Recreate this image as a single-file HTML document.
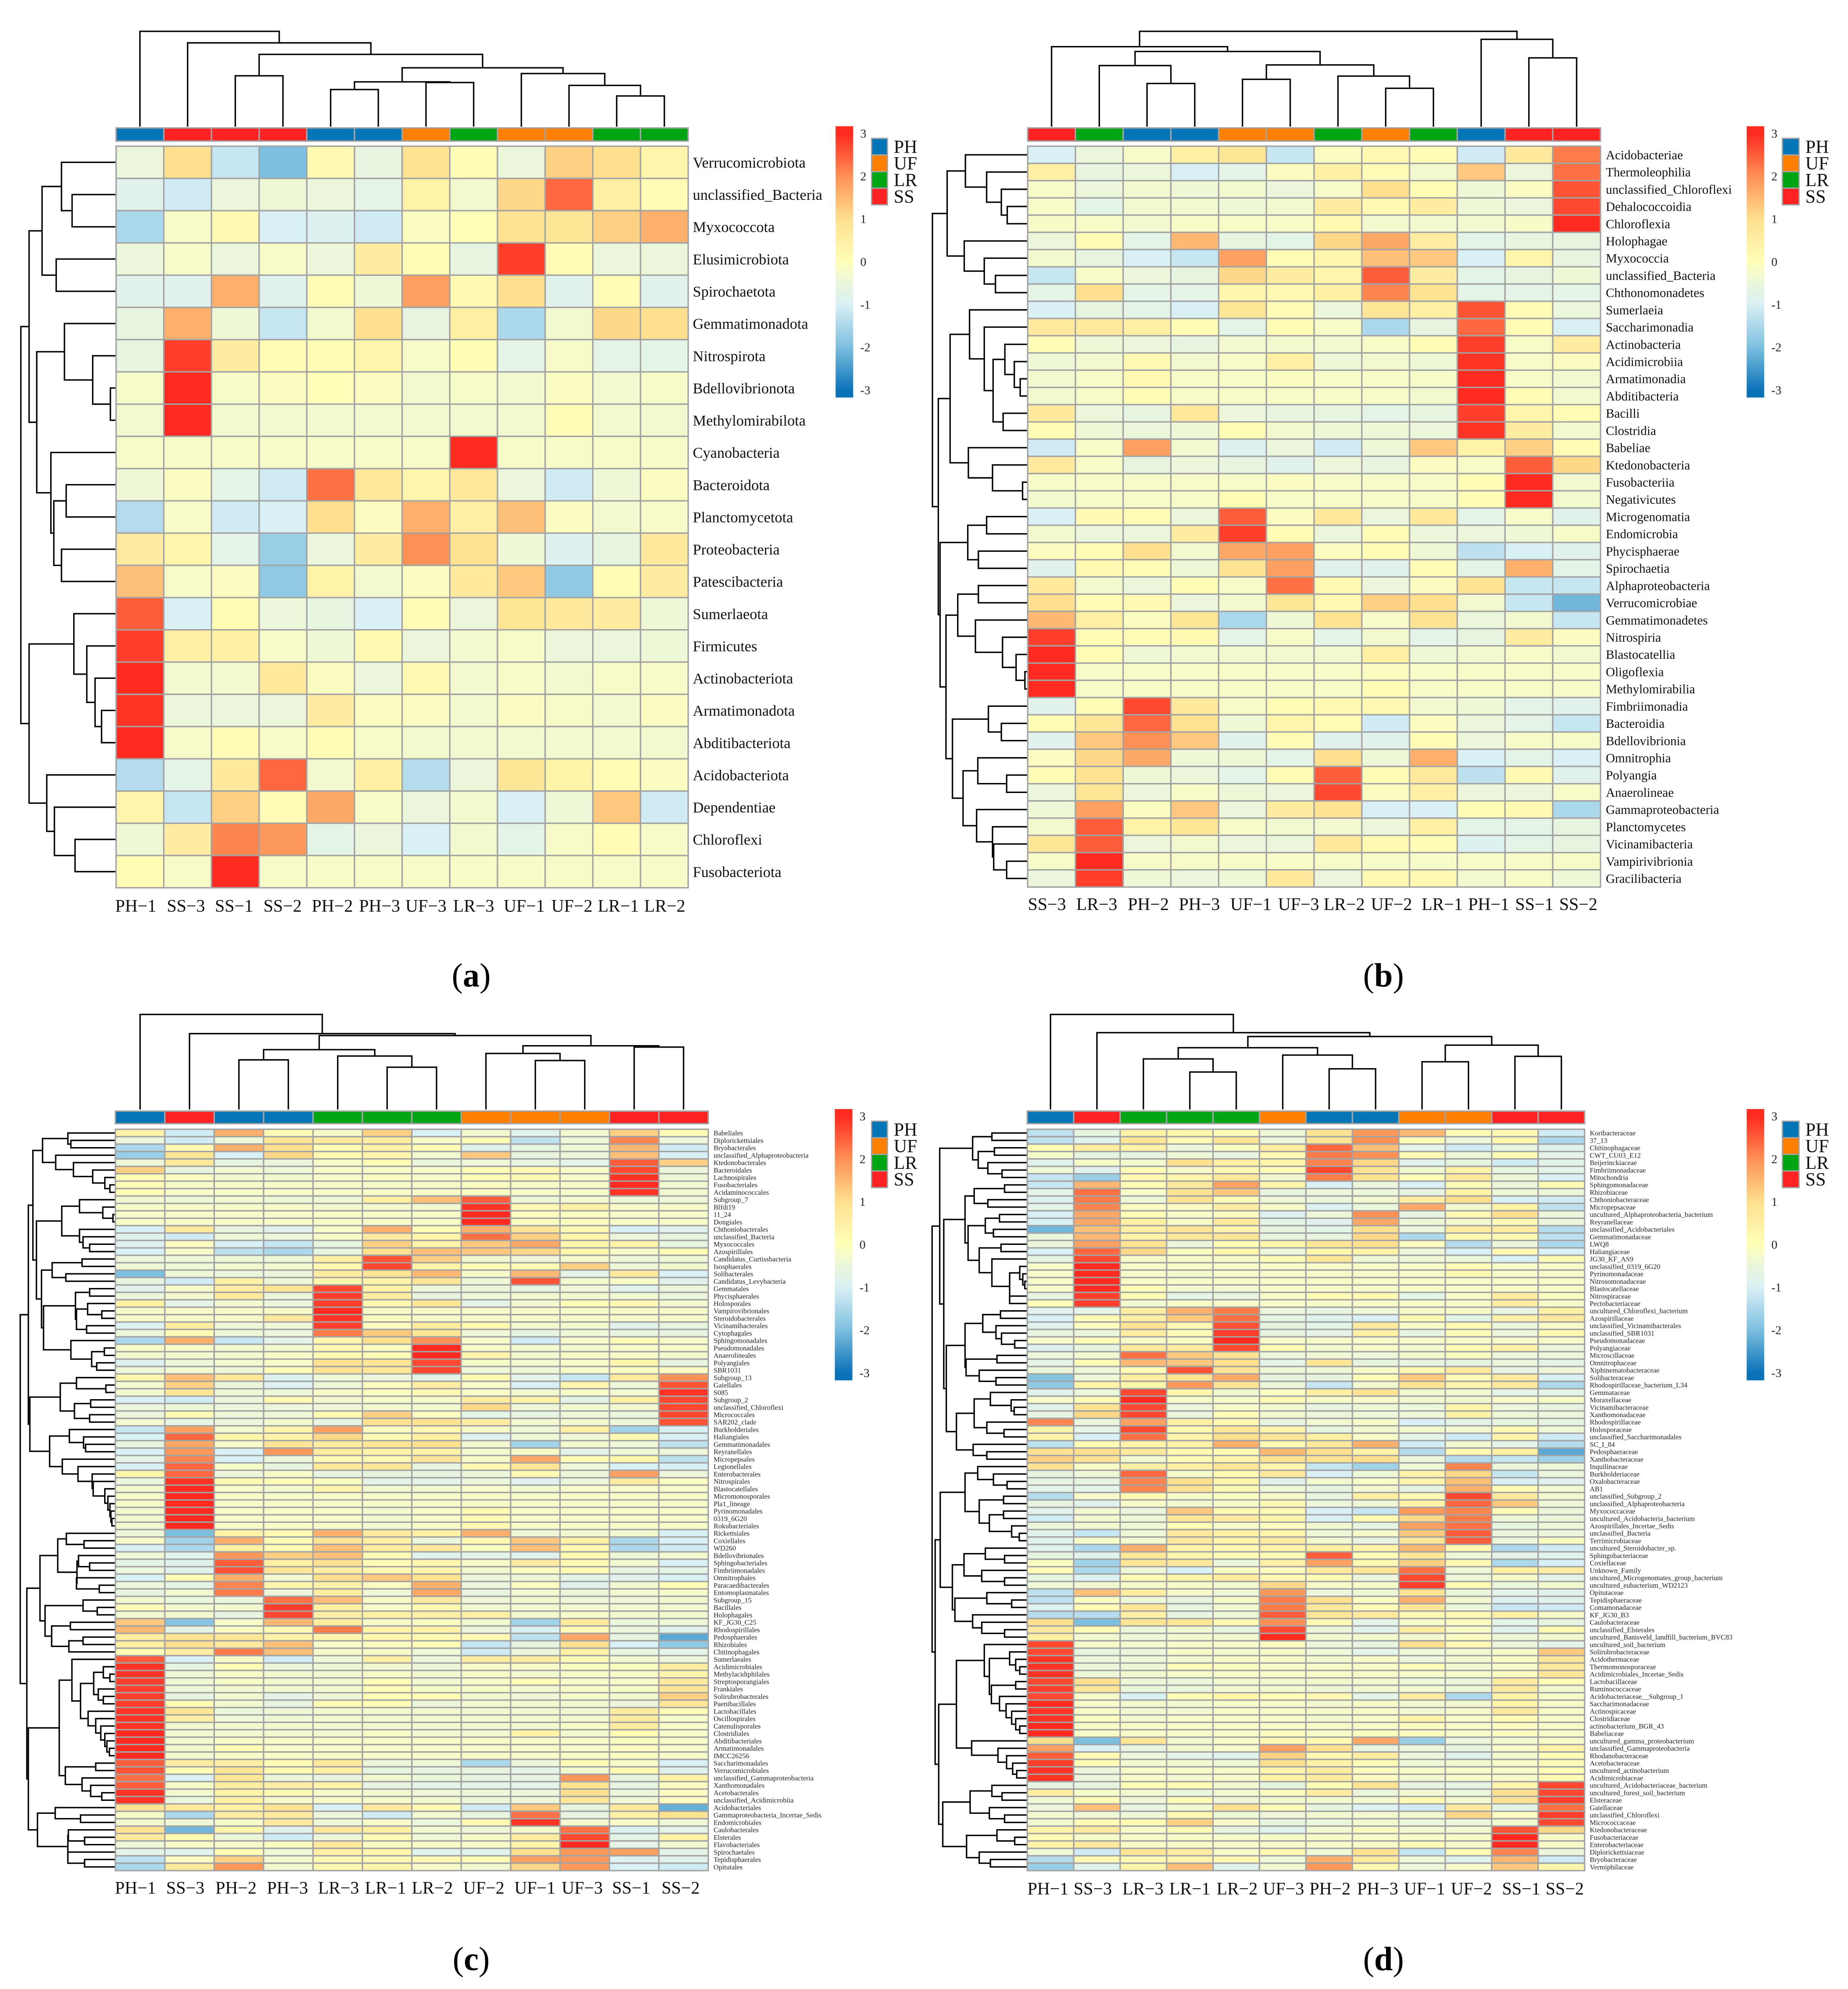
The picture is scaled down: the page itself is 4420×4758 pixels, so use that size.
<!DOCTYPE html>
<html lang="en">
<head>
<meta charset="utf-8">
<title>Clustered heatmaps of taxa across samples</title>
<style>
html,body{margin:0;padding:0;background:#fff;}
svg{display:block;font-family:"Liberation Serif",serif;}
</style>
</head>
<body>
<svg id="figure" xmlns="http://www.w3.org/2000/svg" width="4420" height="4758" viewBox="0 0 4420 4758">
<rect x="0" y="0" width="4420" height="4758" fill="#ffffff"></rect>
</svg>
<script>
const legendGroups=["PH","UF","LR","SS"];
const colorbarTicks=[3,2,1,0,-1,-2,-3];

const columnsA=["PH−1","SS−3","SS−1","SS−2","PH−2","PH−3","UF−3","LR−3","UF−1","UF−2","LR−1","LR−2"];
const rowsA=["Verrucomicrobiota","unclassified_Bacteria","Myxococcota","Elusimicrobiota","Spirochaetota","Gemmatimonadota","Nitrospirota","Bdellovibrionota","Methylomirabilota","Cyanobacteria","Bacteroidota","Planctomycetota","Proteobacteria","Patescibacteria","Sumerlaeota","Firmicutes","Actinobacteriota","Armatimonadota","Abditibacteriota","Acidobacteriota","Dependentiae","Chloroflexi","Fusobacteriota"];
const valuesA=[
[-.5,1,-1.2,-2,.2,-.6,.9,.1,-.5,1.2,1,.3],
[-.8,-1.1,-.5,-.4,-.5,-.7,.4,-.3,1.1,2.4,.5,.1],
[-1.5,-.2,.2,-1,-.9,-1.1,-.1,0,.9,.8,1.2,1.6],
[-.5,-.2,-.5,-.2,-.5,.6,.1,-.6,2.8,.1,-.5,-.5],
[-.8,-.8,1.6,-.8,.1,-.4,1.8,.2,1,-.8,.1,-.8],
[-.6,1.6,-.4,-1.2,-.3,1,-.6,.5,-1.5,-.3,1.1,1],
[-.6,2.8,.6,.1,.1,.3,-.2,.1,-.7,-.2,-.7,-.7],
[-.2,3,-.2,-.1,0,-.1,-.3,-.2,-.3,-.1,-.3,-.2],
[-.3,3,-.3,-.3,-.3,-.3,-.3,-.3,-.3,.1,-.3,-.3],
[-.2,-.2,-.2,-.2,-.2,-.2,-.2,3,-.2,-.2,-.2,-.2],
[-.4,-.1,-.7,-1.1,2.3,.7,.3,.7,-.5,-1.1,-.4,-.1],
[-1.4,-.2,-1.1,-1,1,-.1,1.6,.5,1.4,-.1,-.3,-.2],
[.6,.3,-.7,-1.7,-.5,.6,2,.9,-.4,-.9,-.6,.7],
[1.4,-.2,-.1,-1.8,.4,-.3,-.1,.7,1.3,-1.8,.1,.6],
[2.5,-1,.1,-.5,-.6,-1,.1,-.5,.8,.7,.6,-.4],
[2.8,.5,.5,-.2,-.4,.2,-.5,-.3,-.2,-.5,-.5,-.4],
[3,-.3,-.3,.7,-.1,-.5,.2,-.3,-.2,-.3,-.2,-.2],
[2.9,-.5,-.5,-.5,.6,-.1,-.1,-.3,-.1,-.2,-.3,-.1],
[3,-.2,.1,-.2,.1,-.2,-.3,-.3,-.3,-.3,-.3,-.3],
[-1.4,-.7,.7,2.4,-.3,.5,-1.4,-.5,.8,.4,.1,-.1],
[.3,-1.2,1.2,.1,1.7,-.2,-.5,-.3,-1,-.4,1.3,-1.1],
[-.4,.6,2.1,1.9,-.7,-.5,-1,-.3,-.7,-.2,.1,-.2],
[.1,-.2,3,-.2,-.2,-.2,-.2,-.2,-.2,-.2,-.2,-.2]];
const topTreeA=[298,0,[262,0,[226,[159,0,0],[184,[140,[116,0,0],[138,0,0]],[166,0,[129,0,[96,0,0]]]]]]];
const rowTreeA=[161,[147,[125,[92,0,[74,0,0]],[101,0,0]],[134,[87,0,[39,0,[9,0,0]]],[110,0,[105,[84,0,0],[92,0,0]]]]],[147,[71,0,[49,0,[35,0,[24,0,0]]]],[117,0,[104,0,[69,0,0]]]]];

const columnsB=["SS−3","LR−3","PH−2","PH−3","UF−1","UF−3","LR−2","UF−2","LR−1","PH−1","SS−1","SS−2"];
const rowsB=["Acidobacteriae","Thermoleophilia","unclassified_Chloroflexi","Dehalococcoidia","Chloroflexia","Holophagae","Myxococcia","unclassified_Bacteria","Chthonomonadetes","Sumerlaeia","Saccharimonadia","Actinobacteria","Acidimicrobiia","Armatimonadia","Abditibacteria","Bacilli","Clostridia","Babeliae","Ktedonobacteria","Fusobacteriia","Negativicutes","Microgenomatia","Endomicrobia","Phycisphaerae","Spirochaetia","Alphaproteobacteria","Verrucomicrobiae","Gemmatimonadetes","Nitrospiria","Blastocatellia","Oligoflexia","Methylomirabilia","Fimbriimonadia","Bacteroidia","Bdellovibrionia","Omnitrophia","Polyangia","Anaerolineae","Gammaproteobacteria","Planctomycetes","Vicinamibacteria","Vampirivibrionia","Gracilibacteria"];
const valuesB=[
[-1,-.5,-.2,.5,.8,-1.2,-.1,.2,.1,-1.1,.7,2.2],
[.5,-.6,-.5,-1,-.7,-.1,.5,.1,-.3,1.3,-.5,2.3],
[-.2,-.5,-.3,-.4,-.3,-.5,-.2,1,.1,-.4,-.1,2.6],
[-.2,-.7,-.3,-.3,-.4,-.3,.6,.2,.6,-.4,-.5,2.7],
[-.2,-.2,-.3,-.2,-.2,-.2,.2,-.3,-.3,-.3,-.2,3],
[-.5,.1,-.7,1.5,-.6,-.7,1.1,1.7,.6,-.7,-.6,-.6],
[-.3,-.6,-1,-1.2,1.8,.1,.3,1.4,1.3,-1,.3,-.6],
[-1.2,-.2,-.5,-.6,1.1,.6,.3,2.5,.6,-.7,-.6,-.4],
[-.7,1,-.7,-.7,.3,.2,.5,2.1,.9,-.7,-.7,-.7],
[-1,-.6,-.7,-1,.8,.1,-.5,.8,.5,2.6,.1,-.5],
[.7,.7,.5,.1,-.7,.1,-.2,-1.5,-.6,2.4,.1,-1],
[.1,-.4,-.5,-.6,-.3,-.3,-.3,-.2,.1,2.8,-.2,.6],
[-.4,-.3,.2,-.3,-.2,.5,-.4,-.3,-.4,2.9,-.2,-.1],
[-.3,-.2,.2,-.2,-.2,-.1,-.2,-.2,-.2,3,-.2,-.3],
[-.3,-.2,.1,-.2,-.2,-.2,-.2,-.2,-.3,3,.1,-.3],
[.7,-.5,-.6,.7,-.5,-.6,-.6,-.7,-.6,2.8,.3,.1],
[.1,-.4,-.5,-.4,.1,-.3,-.4,-.4,-.5,2.9,.6,-.3],
[-1.1,-.2,1.8,-.3,-.9,-.5,-1.1,-.4,1.3,.4,1.2,.1],
[.7,-.2,-.6,-.5,-.6,-.8,-.5,-.6,-.1,-.2,2.5,1.1],
[-.2,-.2,-.2,-.2,-.2,-.1,-.2,-.2,-.2,.1,3,-.3],
[-.3,-.2,-.2,-.2,.1,-.2,-.2,-.2,-.2,.1,3,-.3],
[-1,.2,.1,-.5,2.5,-.1,.7,-.5,.7,-.7,-.2,-.8],
[-.3,-.5,-.5,.6,2.8,.1,-.5,.1,-.5,-.5,-.4,-.2],
[-.1,.1,1,-.3,1.7,1.8,-.1,.1,-.4,-1.3,-1,-.8],
[-.8,.2,.1,-.4,.9,1.8,-.8,-.8,.1,-.7,1.6,-.7],
[.7,-.3,-.5,.1,-.2,2.3,.2,-.5,-.1,.9,-1.2,-1.2],
[1,.1,.2,-.5,-.3,.8,.2,1.2,1,-.3,-1.2,-2.1],
[1.5,.5,-.1,.8,-1.5,-.4,.9,-.2,.9,-.5,-.3,-1.2],
[2.8,.1,.1,.2,-.7,-.2,-.7,-.3,-.7,-.6,.6,-.1],
[3,.1,-.4,-.3,-.3,-.3,-.3,.5,-.4,-.3,-.2,-.3],
[3,-.2,-.2,-.2,-.2,-.2,-.2,-.1,-.2,-.2,-.2,-.2],
[3,-.2,-.2,-.2,-.2,-.2,-.2,.1,-.2,-.2,-.2,-.2],
[-.8,.1,2.7,.7,-.2,.1,.2,.2,-.3,-.4,-.7,-.8],
[.1,.8,2.4,.9,-.4,.3,.1,-1.1,-.1,-.5,-.7,-1.2],
[-.8,1.3,2,1.3,-.8,.1,-.8,-.8,.1,-.5,-.2,-.2],
[-.1,1.1,1.7,-.4,-.4,-.7,1,-.4,1.6,-1,-.7,-1],
[.1,.9,-.4,-.5,-.7,.1,2.5,.1,.7,-1.3,.2,-.8],
[-.5,.8,-.5,-.2,-.4,-.5,2.7,-.1,.5,-.5,-.5,-.2],
[-.4,1.8,-.1,1.3,-.5,.6,.9,-1,-1,.1,.2,-1.5],
[-.3,2.5,.4,.8,-.2,-.3,-.3,-.5,.5,-.7,-.7,-.6],
[.8,2.5,-.5,-.3,-.5,-.5,.7,.2,.1,-.9,-.7,-.6],
[-.2,3,-.2,-.2,-.2,-.2,-.2,-.2,-.2,-.2,-.2,-.2],
[-.5,2.8,-.4,-.5,-.4,.7,-.5,.2,.2,-.3,-.2,-.4]];
const topTreeB=[298,[250,0,[235,[191,0,[135,0,0]],[193,[148,0,0],[158,0,[120,0,0]]]]],[273,0,[215,0,0]]];
const rowTreeB=[161,[136,[105,0,[69,0,[44,0,[34,0,0]]]],[107,0,[73,0,[54,0,0]]]],[151,[131,[98,0,[73,0,[58,[38,0,[22,0,[12,0,0]]],[41,0,0]]]],[100,0,[59,0,[8,0,0]]]],[148,[101,[69,0,0],[83,0,0]],[138,[118,[83,0,0],[88,0,[42,0,[19,0,[4,0,0]]]]],[127,[66,0,[44,0,0]],[109,[84,0,[35,0,0]],[86,0,[59,0,[57,0,[35,0,0]]]]]]]]]];

const columnsC=["PH−1","SS−3","PH−2","PH−3","LR−3","LR−1","LR−2","UF−2","UF−1","UF−3","SS−1","SS−2"];
const rowsC=["Babeliales","Diplorickettsiales","Bryobacterales","unclassified_Alphaproteobacteria","Ktedonobacterales","Bacteroidales","Lachnospirales","Fusobacteriales","Acidaminococcales","Subgroup_7","Blfdi19","11_24","Dongiales","Chthoniobacterales","unclassified_Bacteria","Myxococcales","Azospirillales","Candidatus_Curtissbacteria","Isosphaerales","Solibacterales","Candidatus_Levybacteria","Gemmatales","Phycisphaerales","Holosporales","Vampirovibrionales","Steroidobacterales","Vicinamibacterales","Cytophagales","Sphingomonadales","Pseudomonadales","Anaerolineales","Polyangiales","SBR1031","Subgroup_13","Gaiellales","S085","Subgroup_2","unclassified_Chloroflexi","Micrococcales","SAR202_clade","Burkholderiales","Haliangiales","Gemmatimonadales","Reyranellales","Micropepsales","Legionellales","Enterobacterales","Nitrospirales","Blastocatellales","Micromonosporales","Pla1_lineage","Pyrinomonadales","0319_6G20","Rokubacteriales","Rickettsiales","Coxiellales","WD260","Bdellovibrionales","Sphingobacteriales","Fimbriimonadales","Omnitrophales","Paracaedibacterales","Entomoplasmatales","Subgroup_15","Bacillales","Holophagales","KF_JG30_C25","Rhodospirillales","Pedosphaerales","Rhizobiales","Chitinophagales","Sumerlaeales","Acidimicrobiales","Methylacidiphilales","Streptosporangiales","Frankiales","Solirubrobacterales","Paenibacillales","Lactobacillales","Oscillospirales","Catenulisporales","Clostridiales","Abditibacteriales","Armatimonadales","IMCC26256","Saccharimonadales","Verrucomicrobiales","unclassified_Gammaproteobacteria","Xanthomonadales","Acetobacterales","unclassified_Acidimicrobiia","Acidobacteriales","Gammaproteobacteria_Incertae_Sedis","Endomicrobiales","Caulobacterales","Elsterales","Flavobacteriales","Spirochaetales","Tepidisphaerales","Opitutales"];
const valuesC=[
[.4,-1.1,1.6,.1,-.2,1.2,-1,-.3,-.8,-.3,1.2,.1],
[-.5,-1.1,-.4,.8,.7,.6,-.2,.1,-1.3,-.4,2.1,-.5],
[-1.5,.2,1.6,1,.1,.4,.1,-.8,-.6,-.4,1.5,-1.1],
[-1.7,.8,-1,1.1,.2,.3,-.3,1.3,-.6,-.5,1.4,-1],
[-.4,.7,-.6,-.5,-.2,.1,-.5,-.4,-.6,-.7,2.5,1.2],
[1.2,-.6,-.3,-.4,-.2,-.2,-.2,.1,.2,-.2,2.7,-.5],
[.1,-.1,-.3,-.3,-.2,-.1,-.2,.1,.2,-.2,2.9,-.4],
[.1,-.2,-.2,-.2,-.2,-.2,-.2,-.1,-.2,-.2,3,-.3],
[.1,-.2,-.2,-.2,-.2,-.2,-.2,-.1,-.2,-.2,2.9,-.3],
[-.3,-.4,-.3,-.4,-.4,.5,1.4,2.5,-.4,-.3,-.4,-.4],
[-.2,-.2,-.2,-.2,-.3,-.3,-.3,2.9,.2,.5,-.2,-.2],
[-.2,-.2,-.2,-.2,-.2,-.2,-.2,3,-.1,-.1,-.2,-.2],
[-.2,-.2,-.2,-.2,-.2,-.2,-.2,3,-.1,-.1,-.2,-.2],
[-1,.7,-.6,-.8,-.2,1.6,.1,1.6,.8,.2,-1,-.8],
[-.8,-1.1,-.4,-.5,-.2,.6,.3,2.3,1.2,.3,-.5,-.6],
[-.9,-.1,-1,-1.2,-.6,1.2,.4,1.3,1.7,.3,.4,-.6],
[-1,-.2,-1.3,-1.5,-.6,1,1.4,1.3,1.1,.3,-.2,.1],
[-.5,-.4,-.4,-.4,.5,2.6,1.2,-.3,-.4,-.2,-.4,-.4],
[-.4,-.4,-.3,-.3,.2,2.7,.4,.1,.1,1.2,-.4,-.3],
[-2,-.4,-.5,-.5,.6,.8,1.5,-.2,1.5,-.7,.7,-1],
[-.6,-1.1,.5,-.4,.3,.4,.8,-.4,2.6,-.3,-.2,-.8],
[-.8,-.2,.6,.9,2.7,.4,-.4,-.5,-.6,-.4,-.8,-.5],
[-.5,-.3,.7,-.5,2.8,.6,-.6,-.4,-.3,-.3,-.3,-.5],
[.5,-.7,-.3,-.5,2.8,.2,.8,-.7,-.3,.1,.2,-.3],
[-.2,-.2,-.2,-.2,3,-.2,-.2,-.2,-.2,-.2,-.2,-.2],
[-.2,-.2,-.2,.7,2.9,-.1,-.2,-.2,-.2,-.2,-.2,-.2],
[-.9,.6,-.4,-.4,2.8,-.1,.6,.2,-.3,-.3,-.8,-.6],
[-.5,.1,-.4,-.5,2.2,1.3,.8,-.4,-.6,-.4,-.6,-.6],
[-1.5,1.6,-1.2,-.7,.3,1,2,-.2,-1.1,-.2,.1,-.2],
[-.2,-.2,-.3,-.3,.2,-.1,3,-.2,-.3,-.3,-.2,-.2],
[-.3,-.3,-.3,-.2,.2,.1,3,.3,-.3,-.2,-.2,-.3],
[-.9,-.5,-.3,-.2,.9,.8,2.7,-.2,-.3,-.2,.3,-.6],
[-.4,-.3,-.4,.1,.9,.8,2.7,-.4,-.4,-.2,-.1,-.1],
[.3,1.4,.8,-.9,-.4,-.5,-.7,.2,-.7,-1.2,.7,2],
[-.3,1.2,-.5,-.9,-.4,-.1,.6,-.2,-1,.3,-.4,2.6],
[-.3,.8,-.4,-.4,-.2,-.1,.2,-.2,-.3,-.2,-.3,2.9],
[-1,-1.1,-.5,.2,-.3,-.2,-.2,.6,.4,-.7,.5,2.7],
[-.5,-.4,-.5,-.5,-.4,-.3,-.3,1.1,-.4,-.3,-.3,2.7],
[-.5,.1,-.4,-.4,.2,1.2,-.1,-.7,-.6,-.4,-.5,2.7],
[-.3,-.6,-.5,-.3,-.6,.9,.9,.6,-.3,-.3,-.4,2.6],
[-1.2,1.8,-.3,.3,1.8,-.1,.2,-.2,-.4,.5,-1.6,-1],
[-1,2.4,.3,.4,1.1,.1,.5,-.9,-.4,-.4,.2,-1],
[-.6,1.7,-.2,.8,.6,.8,1,-.3,-1.6,-.3,-.4,-1.3],
[-1,1.9,-1,1.9,.6,.4,.4,-.3,-.2,-.7,-.4,-.5],
[-.7,2.1,-1,-.5,.1,.2,.8,-.2,1.7,.1,.3,-1.3],
[-1,2.4,-.2,-.6,.7,.8,-.6,.2,.8,-.4,-1,-1],
[.3,2.4,-.5,-.2,-.6,-.6,-.6,-.5,.2,-.5,1.8,-.5],
[-.5,2.9,.2,.1,-.1,-.7,-.7,-.5,-.8,-.5,.6,-.1],
[-.3,3,-.2,-.3,.3,-.3,-.3,-.2,-.3,-.2,-.2,-.2],
[-.2,3,-.2,-.2,-.2,-.2,-.2,-.2,-.2,-.2,-.2,-.2],
[-.2,3,-.2,-.2,-.2,-.2,-.2,-.2,-.2,-.2,-.2,-.2],
[-.3,3,-.2,-.2,-.2,-.3,-.2,.2,-.2,-.2,-.2,-.2],
[-.3,3,-.2,-.2,-.2,-.3,-.2,.1,-.2,-.2,-.2,-.2],
[-.3,3,-.2,-.2,-.2,-.3,-.2,.2,-.2,-.2,-.2,-.2],
[-.5,-2,.4,.2,1.6,.7,.5,1.6,-.4,-.3,-.3,-1],
[-.2,-1.6,1.6,.1,.8,.5,-.5,.2,1.3,.5,-1.5,-1],
[-1,-1.5,.5,.1,1.4,.6,.7,-.1,1.4,.2,-1.5,-1.1],
[-.4,-.8,1.9,1.2,1.4,.1,-.8,-.7,-.8,.2,-.4,-.3],
[-.7,-.8,2.5,.5,1,.1,.3,-.2,.6,.2,-.3,-1],
[-.5,-.8,2.6,.8,.5,.2,.3,-.3,-.1,.1,-.6,-.7],
[-1,.1,1.6,-.3,1,1.3,.9,-.5,-.4,-.7,-.8,-1],
[-.5,-.7,2.1,.3,.4,-.1,1.6,-.5,-.1,-.8,-.3,.1],
[-.6,-.3,2.2,-.5,.6,-.4,1.7,-.6,-.3,-.5,-.3,-.2],
[-.3,-.5,-.5,2.3,1.4,-.2,.7,-.4,-.3,-.4,-.4,-.3],
[.1,-.3,-.3,2.8,.5,-.2,.2,-.3,-.3,-.3,-.3,-.3],
[-.3,-.3,-.6,2.7,.5,.5,.5,.5,-.3,-.2,-.3,-.3],
[1.3,-1.9,-.2,1.5,.6,-.2,-.1,-.3,-1.6,.7,-.5,-.4],
[1.5,-.7,-.1,.1,2.2,.4,.4,-.5,-1,.1,-.5,-.8],
[.6,.9,.8,.4,.3,.3,.2,.2,-1.3,1.7,-.6,-2.3],
[.5,1,.7,1.4,-.2,-.1,.1,-1.2,-.6,1,-1,-1.8],
[.1,.6,2.2,1.4,-.2,-.2,-.4,-1.1,-.5,.5,-.6,-.7],
[2.5,-1,-.2,-1.1,-.4,.5,-.5,.6,.6,.1,-.3,-.5],
[2.9,-.6,.1,-.5,-.4,-.3,-.5,-.2,-.2,-.1,-.1,.6],
[2.9,-.4,-.2,-.3,-.3,-.2,-.3,-.2,-.3,-.2,-.2,.3],
[2.8,-.4,-.2,-.3,-.3,.1,-.3,-.2,.1,-.2,-.2,.7],
[2.8,-.4,-.3,-.3,-.3,.1,-.2,-.2,-.3,-.2,-.2,.8],
[2.8,-.6,-.3,-.7,-.4,.1,.1,-.3,-.4,-.2,-.3,1.2],
[2.8,.1,-.3,-.6,.1,.1,-.5,-.3,-.3,-.3,-.5,.8],
[2.9,.8,-.5,-.4,-.3,-.3,-.3,-.3,-.3,-.3,.6,.1],
[2.9,.5,-.4,-.4,-.3,-.3,-.3,-.3,-.3,-.3,.6,-.2],
[2.9,-.3,-.3,-.3,-.3,-.3,-.3,-.3,-.3,-.2,.6,-.2],
[3,-.3,-.3,-.3,-.3,-.2,-.3,-.3,.4,-.3,.1,-.2],
[3,-.3,-.2,-.2,-.2,-.2,-.2,-.2,-.2,-.2,-.1,-.2],
[3,-.3,.1,-.2,-.2,-.2,-.2,-.2,-.2,-.2,-.1,-.2],
[3,-.3,-.2,-.2,-.2,-.2,-.2,-.2,-.2,-.2,-.1,-.2],
[2.5,.6,.5,.1,.7,-.5,-.4,-1.5,-.5,.1,-.2,-1],
[2.6,.1,.8,.2,.5,-.6,-.6,-.6,-.7,-.3,.2,-.8],
[2.3,-1,.8,-.5,-.6,-.3,-.5,-.6,-.6,1.9,-.6,.4],
[2.5,-.2,.6,.6,.4,-.6,-.7,-.7,-.7,.9,-.6,-.1],
[2.9,-.3,.4,.2,-.2,-.3,-.4,-.4,-.5,1,-.5,-.1],
[2.9,-.5,.5,-.2,-.2,-.2,-.3,-.4,-.4,.8,-.4,-.1],
[.9,.7,.5,.9,-1,.7,.2,-1.1,1.3,-.6,.7,-2.2],
[-.2,-1.5,.6,.7,-.5,-1.1,-.3,-.6,2.3,-.6,.5,.9],
[-.3,-.4,-.2,.7,-.4,-.2,-.5,.2,2.9,-.3,-.2,-.4],
[.9,-2.1,.3,-.8,.7,.5,-.3,-.4,-.2,2.3,-.9,-.7],
[.7,.2,-.5,-1.1,-.5,.1,-.4,-.2,.6,2.7,-.7,.4],
[-.4,-.2,-.2,-.1,.7,-.1,-.2,-.2,.3,3,-.7,-.3],
[-.7,-.8,.1,-.4,.5,.3,-.8,-.8,1,1.9,1.8,-.7],
[-1.3,-.1,1.2,-.3,.2,.2,.2,.1,1.8,1.9,-.9,-.8],
[-1.5,.7,1.9,-.3,.2,.3,-.2,-.3,1.1,1.9,-1,-1.1]];
const topTreeC=[297,0,[237,0,[231,[187,[155,0,0],[167,0,[132,0,0]]],[199,[175,0,[153,0,0]],[195,0,0]]]]];
const rowTreeC=[187,[171,[162,[143,[93,0,[87,0,0]],[117,0,[82,0,[44,0,[20,0,[10,0,0]]]]]],[155,[105,[70,0,[24,0,[4,0,0]]],[70,0,[63,0,[50,0,0]]]],[145,[124,[65,0,0],[97,0,0]],[141,[78,[50,0,0],[76,[54,0,[26,0,0]],[56,0,0]]],[87,0,[46,[21,0,0],[36,0,0]]]]]]],[168,[108,[76,0,[18,0,0]],[80,[48,0,0],[50,0,0]]],[129,[90,0,[62,0,[58,0,0]]],[104,0,[73,0,[45,0,[43,0,[20,0,[14,0,[10,0,[8,0,[6,0,0]]]]]]]]]]]],[174,[148,[113,[96,0,[61,0,0]],[75,[72,0,[50,0,0]],[76,0,[31,0,0]]]],[138,[63,0,[35,0,0]],[125,[88,0,0],[91,[63,0,0],0]]]],[171,[110,[85,0,[68,[42,[23,0,[10,0,0]],[33,0,[23,0,0]]],[53,0,[38,0,[28,0,[20,0,[16,0,[11,0,0]]]]]]]],[98,[38,0,0],[65,0,[48,0,[26,0,0]]]]],[153,[118,0,[68,0,0]],[93,[92,0,[60,0,0]],[93,0,[60,0,0]]]]]]];

const columnsD=["PH−1","SS−3","LR−3","LR−1","LR−2","UF−3","PH−2","PH−3","UF−1","UF−2","SS−1","SS−2"];
const rowsD=["Koribacteraceae","37_13","Chitinophagaceae","CWT_CU03_E12","Beijerinckiaceae","Fimbriimonadaceae","Mitochondria","Sphingomonadaceae","Rhizobiaceae","Chthoniobacteraceae","Micropepsaceae","uncultured_Alphaproteobacteria_bacterium","Reyranellaceae","unclassified_Acidobacteriales","Gemmatimonadaceae","LWQ8","Haliangiaceae","JG30_KF_AS9","unclassified_0319_6G20","Pyrinomonadaceae","Nitrosomonadaceae","Blastocatellaceae","Nitrospiraceae","Pectobacteriaceae","uncultured_Chloroflexi_bacterium","Azospirillaceae","unclassified_Vicinamibacterales","unclassified_SBR1031","Pseudomonadaceae","Polyangiaceae","Microscillaceae","Omnitrophaceae","Xiphinematobacteraceae","Solibacteraceae","Rhodospirillaceae_bacterium_L34","Gemmataceae","Moraxellaceae","Vicinamibacteraceae","Xanthomonadaceae","Rhodospirillaceae","Holosporaceae","unclassified_Saccharimonadales","SC_I_84","Pedosphaeraceae","Xanthobacteraceae","Inquilinaceae","Burkholderiaceae","Oxalobacteraceae","AB1","unclassified_Subgroup_2","unclassified_Alphaproteobacteria","Myxococcaceae","uncultured_Acidobacteria_bacterium","Azospirillales_Incertae_Sedis","unclassified_Bacteria","Terrimicrobiaceae","uncultured_Steroidobacter_sp.","Sphingobacteriaceae","Coxiellaceae","Unknown_Family","uncultured_Microgenomates_group_bacterium","uncultured_eubacterium_WD2123","Opitutaceae","Tepidisphaeraceae","Comamonadaceae","KF_JG30_B3","Caulobacteraceae","unclassified_Elsterales","uncultured_Banisveld_landfill_bacterium_BVC83","uncultured_soil_bacterium","Solirubrobacteraceae","Acidothermaceae","Thermomonosporaceae","Acidimicrobiales_Incertae_Sedis","Lactobacillaceae","Ruminococcaceae","Acidobacteriaceae__Subgroup_1","Saccharimonadaceae","Actinospicaceae","Clostridiaceae","actinobacterium_BGR_43","Babeliaceae","uncultured_gamma_proteobacterium","unclassified_Gammaproteobacteria","Rhodanobacteraceae","Acetobacteraceae","uncultured_actinobacterium","Acidimicrobiaceae","uncultured_Acidobacteriaceae_bacterium","uncultured_forest_soil_bacterium","Elsteraceae","Gaiellaceae","unclassified_Chloroflexi","Micrococcaceae","Ktedonobacteraceae","Fusobacteriaceae","Enterobacteriaceae","Diplorickettsiaceae","Bryobacteraceae","Vermiphilaceae"];
const valuesD=[
[-1.3,-.6,.4,.3,.1,-.4,.9,1.9,1.5,.1,.2,-1.1],
[-1.3,-.8,.8,.2,.8,-.5,.9,2,.1,-.5,.3,-1.5],
[.1,.6,.4,-.5,-.1,.6,2.4,1.4,-.7,-1.1,-.6,-.8],
[-.2,-.6,-.6,-.4,-.6,.2,2.2,2,.2,-.4,.1,-.7],
[-.8,-.2,-.3,1,.5,.3,2.1,1.1,-.8,-.6,-1.1,-.7],
[-.4,-.8,.1,-.2,.2,.1,2.7,.9,-.3,.4,-.6,-.7],
[-1.2,-1.7,.2,.3,.7,-.3,2.2,.9,.1,.7,-.4,-1],
[-1.2,1.5,.1,.7,1.8,.3,-1,-.5,-1,.1,-.5,.1],
[-.7,2.3,-.2,.9,1.3,-.6,-.5,-.5,-.6,.4,-.4,-.5],
[-.9,2.2,-.4,.9,.1,-.4,-.5,-.3,.6,1,-1,-1.1],
[-.7,2.1,-.1,-.1,.6,-.2,-.9,-.5,1.7,-.3,.4,-1.3],
[-1,1.7,.1,-.2,-.1,-.9,-.4,2,-.6,.2,1,-.5],
[-1,1.7,.5,-.2,.7,-.7,-.8,1.7,-.4,-.3,.1,-.5],
[-2.1,1.4,.5,.8,.3,-.6,-.7,1,-.5,.6,.6,-1.4],
[-.5,1.5,.4,.7,.8,-.6,-.6,1.1,-1.5,.2,.2,-1.3],
[-.5,1.8,.9,-.5,.1,.3,.8,1,-.1,-1.4,-.5,-1.5],
[-1,2.4,1.1,-.1,.3,-.5,.3,.4,-.5,-1,.2,-1],
[-.6,2.7,-.2,-.2,-.2,.1,.8,-.4,-.4,-.4,-1,.1],
[-.2,3,-.2,-.2,-.2,-.2,-.2,-.2,-.2,.1,-.2,-.2],
[-.2,3,-.2,-.3,-.2,-.2,-.2,-.2,-.2,.2,-.2,-.2],
[-.2,3,-.2,-.2,-.2,-.2,-.2,-.2,-.2,-.2,-.2,-.2],
[-.2,3,.1,-.3,-.3,-.2,-.2,-.2,-.2,-.2,-.2,-.2],
[-.6,2.8,.1,-.7,-.6,-.2,.1,.2,-.7,-.2,.6,-.1],
[.1,2.8,-.3,-.2,-.2,-.2,-.2,-.2,-.2,-.2,.6,-.2],
[-.8,-.7,.6,1.6,2.2,-.5,-.6,-.4,-.2,-.2,-.6,.5],
[-1,.1,.5,1.3,2.3,-.6,-.8,-1,.2,-.7,.4,.7],
[-.8,-.1,.9,.2,2.6,-.6,-.7,.7,-.2,.2,-.5,-.2],
[-.6,-.5,.6,.1,2.8,-.6,-.7,.5,-.6,.1,-.5,.2],
[-.2,.1,-.2,-.1,3,-.2,-.2,-.2,-.2,-.2,-.2,-.2],
[-.9,-.6,.7,.6,2.7,.1,-.3,-.2,-.3,.1,.4,-.5],
[-.5,-.3,2.3,1.3,.9,-.5,-.4,-.5,-.3,-.1,-.5,-.5],
[-.7,.1,1.5,1.3,1,-.7,.8,-.6,-.6,-.6,-.5,-.7],
[-.5,-.4,.1,2.6,.9,-.4,-.4,-.2,.2,.7,-.6,-.4],
[-1.9,-.4,.6,.9,1.7,-.6,-.6,.1,1.3,.1,.7,-1],
[-1.8,.4,.3,1.9,.9,-.5,-1.2,-.3,.9,.3,.7,-1.5],
[-.8,-.5,2.7,.3,-.3,-.1,.5,.9,-.3,-.3,-.7,-.7],
[-.2,.1,3,-.2,-.2,.2,-.2,-.2,-.3,-.3,-.2,-.2],
[-.8,.9,2.7,-.5,-.2,-.3,-.6,-.4,-.5,.3,-.5,-.6],
[-.6,1.1,2.7,-.5,.1,-.3,-.5,-.4,-.4,.4,-.4,-.5],
[2.1,-.5,1.8,.5,.2,-.6,-.3,-.2,-1,-.7,-.6,-.6],
[.4,-.7,2.7,.2,.8,.3,-.6,-.3,-.3,-.3,.2,-.4],
[.4,-1,2.3,.3,1,.8,.5,-.2,-.7,-1.1,.3,-1.1],
[-1.3,.1,.4,.4,1.6,.1,.7,1.6,-1.1,-.3,-.7,-1.4],
[.9,1,.7,.2,.1,1.5,1,.4,-1.4,.2,.5,-2.3],
[1.2,.9,-.3,.1,.3,.9,.9,1,-.5,-1.4,-1.2,-1.6],
[.9,-.2,.5,.5,.8,.3,-1.2,-1.6,-.4,2.1,-.5,-.4],
[-.6,-.4,2.4,-.2,.2,.7,-1,-.4,.4,1.1,-1.2,-.5],
[-.6,-.6,2.1,1,.3,-.8,-.3,-.2,.3,1.4,-1,-.8],
[-.7,-.7,2.1,.9,.2,-.4,-.6,-.3,-.6,1.6,.1,-.3],
[-1.4,-.2,.2,-.2,-.1,-.2,-.6,.5,.2,2.7,.7,-.3],
[-.6,-.8,-.2,-.3,-.2,.2,-.5,-.4,.4,2.4,1.3,-.4],
[-.8,-.3,-.5,1.3,.2,.2,-1,-1.2,1.9,2.1,.1,-.5],
[-1.1,-.3,-.4,.8,.6,.3,-1,.2,1.1,2.2,-.4,-.5],
[-.5,-.3,-.4,.1,-.2,-.1,-.3,-.6,1.8,2.3,-.6,-.4],
[-.8,-1.2,-.4,.7,.5,.3,-.4,-.2,1.3,2.5,-.5,-.5],
[-.8,-.2,-.3,.7,.3,.6,-.3,-.6,.8,2.5,-.5,-.1],
[-.8,-1.5,1.6,.4,.2,.4,.5,.4,1.5,.2,-1.5,-1.1],
[-.6,-.8,.8,.3,.1,.1,2.5,.1,.8,-.4,-.7,-.8],
[-.1,-1.6,.8,.7,-.5,.5,1.8,.2,1.2,.2,-1.5,-1],
[.1,-1.5,-.4,-1,-.1,-.1,.7,.8,2.3,-.4,.5,.6],
[-.6,-.9,.1,.4,.6,.2,.1,-.5,2.7,-.4,-.2,-.7],
[-.4,-.3,-.2,-.2,-.3,1.1,-.2,-.2,2.8,.1,-.5,-.3],
[-1.3,1.4,.6,-.2,-.4,1.9,-.5,-.4,.9,-.5,-.7,-.8],
[-1.3,-.1,-.4,-.6,-.2,2.2,1,-.1,1.6,-.3,-.9,-.8],
[-.9,.1,.8,-.6,-.3,2.2,.7,.1,.8,-.5,-1.2,-1.1],
[-1.4,-1.4,.5,-.6,-.4,2.5,.8,.7,.2,.2,.5,-.2],
[1,-2,.9,.8,.2,2,.2,-.7,-.2,-.1,-.7,-.6],
[.7,.1,-.5,-.3,-.6,2.7,-.5,-.8,.6,-.2,-.8,.2],
[.5,-.3,-.4,-.3,-.3,3,-.3,-.3,-.3,-.1,-.4,-.3],
[2.7,-.2,-.3,-.2,-.2,-.1,-.5,-.6,1,.2,-.5,-.7],
[2.7,-.6,-.5,-.2,-.3,-.2,-.4,-.7,-.4,-.3,-.2,1.3],
[2.9,-.5,-.4,-.3,-.2,-.2,-.3,-.2,-.5,-.3,-.1,.8],
[2.9,-.5,-.4,.1,-.1,-.2,-.2,-.2,.1,-.3,-.2,.7],
[2.9,-.4,-.3,-.2,-.2,-.2,-.2,-.2,-.2,-.2,-.1,.8],
[2.7,1,-.4,-.5,-.3,-.3,-.3,-.3,-.4,-.5,.6,.1],
[2.8,.8,-.5,-.5,-.3,-.3,-.4,-.3,-.3,-.4,.7,-.3],
[2.7,-.2,-1,.1,.3,.1,.2,-.7,.6,-1.5,.4,-.2],
[3,-.2,-.3,-.3,-.2,-.2,-.3,-.2,-.3,-.3,.4,-.2],
[2.9,-.2,-.3,-.3,-.2,-.2,-.2,-.2,-.3,-.2,.7,-.2],
[2.9,-.1,-.3,-.2,-.2,-.2,-.3,-.2,.4,-.2,.1,-.2],
[3,-.2,-.2,-.2,-.2,-.2,-.2,-.2,-.1,-.2,-.1,-.2],
[3,-.2,-.2,-.2,-.2,-.1,-.2,-.1,-.1,-.2,-.1,-.2],
[1,-2,.8,-.3,-.2,.2,.2,1.7,-1.7,-.5,-.3,-.2],
[1.8,-1,-.6,-.3,-.2,1.8,1,-.6,-.5,-.6,-.2,.4],
[2.5,.2,-.5,-.7,-.8,1.2,.2,.6,-.5,-.8,-.3,.1],
[2.8,.1,-.3,-.3,-.4,1,.4,.1,-.4,-.3,-.2,.1],
[2.9,-.5,-.2,-.2,-.2,.3,.6,-.1,-.2,-.2,-.2,.1],
[2.9,-.5,-.2,-.3,-.2,.4,.6,-.1,-.3,-.2,-.2,.1],
[-.6,-.6,.1,.1,-.3,-.6,.1,.9,-.6,-.6,.3,2.7],
[.6,-.2,-.3,-.5,-.3,-.1,.6,-.5,-.3,-.5,1,2.7],
[-.4,.1,-.4,.1,-.4,-.3,-.3,-.3,.2,-.3,.9,2.8],
[-.5,1.4,-.6,-.3,1,.1,-.6,-.9,-1.1,.7,-.7,2.3],
[-.3,-.4,-.4,.2,-.4,-.4,-.3,-.3,-.3,1.1,-.1,2.8],
[-.3,.1,.2,1.2,-.2,-.6,-.5,-.3,-.5,-.5,-.3,2.7],
[.4,.6,-.2,.1,-.6,-.8,-.3,-.1,-.3,-.3,2.6,1.1],
[.1,-.2,-.2,-.2,-.2,-.2,-.2,-.2,-.2,-.2,3,-.2],
[.4,.7,-.2,-.2,-.2,-.2,-.2,-.2,.1,-.2,3,-.2],
[-.4,-1.1,.8,.6,-.2,.2,-.4,.9,-1.2,.1,2.1,-.5],
[-1.4,.2,.2,.3,.2,-.4,1.6,.7,-.4,-.8,1.5,-1.1],
[-1.7,-.8,.3,1.4,-.8,-.3,1.9,.2,-.5,-.2,1.3,.3]];
const topTreeD=[297,0,[240,0,[228,[193,[158,0,[117,0,0]],[170,0,[127,0,0]]],[201,[149,0,0],[166,0,0]]]]];
const rowTreeD=[187,[172,[107,[69,0,0],[96,[64,0,0],[77,0,[49,0,0]]]],[164,[122,[104,[44,0,0],[77,0,0]],[116,[82,[54,0,0],[66,0,0]],[94,[51,0,0],[69,0,[34,[14,0,[8,0,[4,0,0]]],[34,0,0]]]]]],[159,[122,[87,[52,0,0],[61,0,[50,0,[24,0,0]]]],[120,[59,0,0],[94,0,[61,0,0]]]],[139,[104,[72,0,[31,0,[25,0,0]]],[79,0,[45,0,0]]],[106,0,[79,0,0]]]]]],[181,[171,[122,[97,0,[66,0,[39,0,0]]],[94,[46,0,0],[74,[46,0,0],[30,0,[15,0,0]]]]],[147,[124,[82,0,[44,0,0]],[89,0,[44,0,0]]],[142,[79,0,[30,0,0]],[107,0,[89,0,[44,0,0]]]]]],[174,[139,[84,0,[74,[34,0,[22,0,[14,0,0]]],[70,[22,0,0],[54,0,[41,0,[30,0,[22,0,[14,0,0]]]]]]]],[109,0,[57,0,[40,0,[28,0,[20,0,0]]]]]],[166,[112,[69,0,[49,0,0]],[74,0,[44,0,0]]],[119,[59,0,[24,0,0]],[94,0,[72,0,0]]]]]]];

const colorStops=[[-3,[11,114,184]],[-2,[124,191,223]],[-1,[217,240,245]],[-.4,[238,247,214]],[0,[255,255,185]],[1,[254,224,143]],[2,[253,144,85]],[3,[255,42,32]]];
const groupColors={PH:"#0476b8",UF:"#ff8000",LR:"#00a513",SS:"#ff2222"};
const GRID="#a3a3a3";
const NS="http://www.w3.org/2000/svg";
const root=document.getElementById("figure");
const defs=document.createElementNS(NS,"defs");
root.appendChild(defs);

function colorOf(v){
  const t=Math.max(-3,Math.min(3,v));
  for(let i=1;i<colorStops.length;i++){
    if(t<=colorStops[i][0]){
      const a=colorStops[i-1],b=colorStops[i];
      const f=(t-a[0])/(b[0]-a[0]);
      const c=a[1].map((x,k)=>Math.round(x+(b[1][k]-x)*f));
      return "rgb("+c.join(",")+")";
    }
  }
  return "rgb(255,42,32)";
}
function svgEl(tag,attrs,parent){
  const e=document.createElementNS(NS,tag);
  for(const k in attrs){e.setAttribute(k,attrs[k]);}
  parent.appendChild(e);
  return e;
}
function drawTree(tree,g,orient,base,unit,leafPos,prefix){
  let leaf=0;
  function walk(node){
    if(node===0){const i=leaf++;return {p:leafPos(i),h:0};}
    const l=walk(node[1]),r=walk(node[2]),h=node[0];
    let d;
    if(orient==="top"){
      d="M"+l.p+" "+(base-l.h*unit)+"V"+(base-h*unit)+"H"+r.p+"V"+(base-r.h*unit);
    }else{
      d="M"+(base-l.h*unit)+" "+l.p+"H"+(base-h*unit)+"V"+r.p+"H"+(base-r.h*unit);
    }
    const link=svgEl("path",{d:d,fill:"none",stroke:"#000",'stroke-width':3.4},g);
    
    
    return {p:(l.p+r.p)/2,h:h};
  }
  walk(tree);
}
function drawPanel(id,columns,rows,values,topTree,rowTree,L){
  const panel=svgEl("g",{},root);
  
  
  const colW=(L.x1-L.x0)/columns.length;
  const rowH=(L.y1-L.y0)/rows.length;
  const xAt=i=>L.x0+i*colW;
  const yAt=j=>L.y0+j*rowH;

  const topG=svgEl("g",{},panel);
  
  
  drawTree(topTree,topG,"top",L.topBase,L.topUnit,i=>xAt(i)+colW/2,'column');

  const rowG=svgEl("g",{},panel);
  
  
  drawTree(rowTree,rowG,"left",L.x0-1,L.rowUnit,j=>yAt(j)+rowH/2,'row');

  const annG=svgEl("g",{},panel);
  
  
  columns.forEach((c,i)=>{
    const group=c.slice(0,2);
    const a=svgEl("rect",{x:xAt(i),y:L.annY0,width:colW,height:L.annY1-L.annY0,fill:groupColors[group],stroke:GRID,'stroke-width':L.grid},annG);
    
    
  });

  const cellG=svgEl("g",{},panel);
  
  
  values.forEach((row,j)=>{
    row.forEach((v,i)=>{
      const cell=svgEl("rect",{x:xAt(i),y:yAt(j),width:colW,height:rowH,fill:colorOf(v),stroke:GRID,'stroke-width':L.grid},cellG);
      
      
    });
  });

  rows.forEach((name,j)=>{
    const t=svgEl("text",{x:L.x1+L.labelGap,y:yAt(j)+rowH/2+L.labelFont*.02,'font-size':L.labelFont,'dominant-baseline':'central',fill:L.labelColor},panel);
    t.textContent=name;
    
    
  });
  columns.forEach((c,i)=>{
    const t=svgEl("text",{x:xAt(i)+colW/2+L.nudge[i],y:L.colLabelY,'font-size':42,'text-anchor':'middle','dominant-baseline':'central',fill:'#111'},panel);
    t.textContent=c;
    
    
  });

  const grad=svgEl("linearGradient",{id:"ramp"+id,x1:0,y1:1,x2:0,y2:0},defs);
  const span=3.17;
  for(let k=0;k<=40;k++){
    const v=-span+2*span*k/40;
    svgEl("stop",{offset:(k/40),'stop-color':colorOf(v)},grad);
  }
  const bar=svgEl("rect",{x:L.barX,y:L.barY,width:42,height:649,fill:"url(#ramp"+id+")"},panel);
  
  
  colorbarTicks.forEach(v=>{
    const t=svgEl("text",{x:L.barX+59,y:L.barY+325-v*102.3,'font-size':29,'dominant-baseline':'central',fill:'#222'},panel);
    t.textContent=String(v);
    
    
  });

  legendGroups.forEach((g,k)=>{
    const y=L.barY+29+k*39.75;
    const s=svgEl("rect",{x:L.legendX,y:y,width:L.legendW,height:39.75,fill:groupColors[g],stroke:GRID,'stroke-width':3},panel);
    
    
    const t=svgEl("text",{x:L.legendX+L.legendW+15,y:y+19.9,'font-size':44,'dominant-baseline':'central',fill:'#111'},panel);
    t.textContent=g;
    
    
  });

  const cap=svgEl("text",{x:L.capX,y:L.capY,'font-size':80,'text-anchor':'middle',fill:'#000'},panel);
  
  
  cap.appendChild(document.createTextNode("("));
  const bold=svgEl("tspan",{'font-weight':'bold'},cap);
  bold.textContent=id;
  cap.appendChild(document.createTextNode(")"));
}

drawPanel("a",columnsA,rowsA,valuesA,topTreeA,rowTreeA,{
  x0:277.7,x1:1646,y0:349.7,y1:2123.7,annY0:306,annY1:337.5,grid:3.4,
  topBase:303,topUnit:.7653,rowUnit:1.409,labelGap:11,labelFont:36,labelColor:'#111',
  colLabelY:2168,nudge:[-10,-4,-3,-1,4,3,0,0,7,7,4,1],
  barX:1998.6,barY:302,legendX:2084.6,legendW:38,capX:1127,capY:2360});
drawPanel("b",columnsB,rowsB,valuesB,topTreeB,rowTreeB,{
  x0:2458,x1:3828,y0:349.7,y1:2122,annY0:306,annY1:337.5,grid:3.4,
  topBase:303,topUnit:.7653,rowUnit:1.409,labelGap:12.7,labelFont:30.5,labelColor:'#111',
  colLabelY:2164,nudge:[-11,-6,3,11,20,20,15,14,21,18,13,4],
  barX:4177.6,barY:302,legendX:4263,legendW:40,capX:3309,capY:2360});
drawPanel("c",columnsC,rowsC,valuesC,topTreeC,rowTreeC,{
  x0:276,x1:1694,y0:2701.4,y1:4474.8,annY0:2658,annY1:2688,grid:3.4,
  topBase:2654,topUnit:.7653,rowUnit:1.2117,labelGap:12.7,labelFont:16.9,labelColor:'#222',
  colLabelY:4517,nudge:[-11,-10,-7,-2,2,-4,-10,-5,-1,-6,-7,-7],
  barX:1996.7,barY:2653,legendX:2084.6,legendW:38,capX:1127,capY:4713});
drawPanel("d",columnsD,rowsD,valuesD,topTreeD,rowTreeD,{
  x0:2457,x1:3790,y0:2701.4,y1:4474.8,annY0:2658,annY1:2688,grid:3.4,
  topBase:2654,topUnit:.7653,rowUnit:1.2117,labelGap:12.3,labelFont:16.9,labelColor:'#222',
  colLabelY:4519,nudge:[-6,-10,-1,0,2,2,2,5,6,7,15,8],
  barX:4177.6,barY:2653,legendX:4263,legendW:40,capX:3309,capY:4713});
</script>
</body>
</html>
